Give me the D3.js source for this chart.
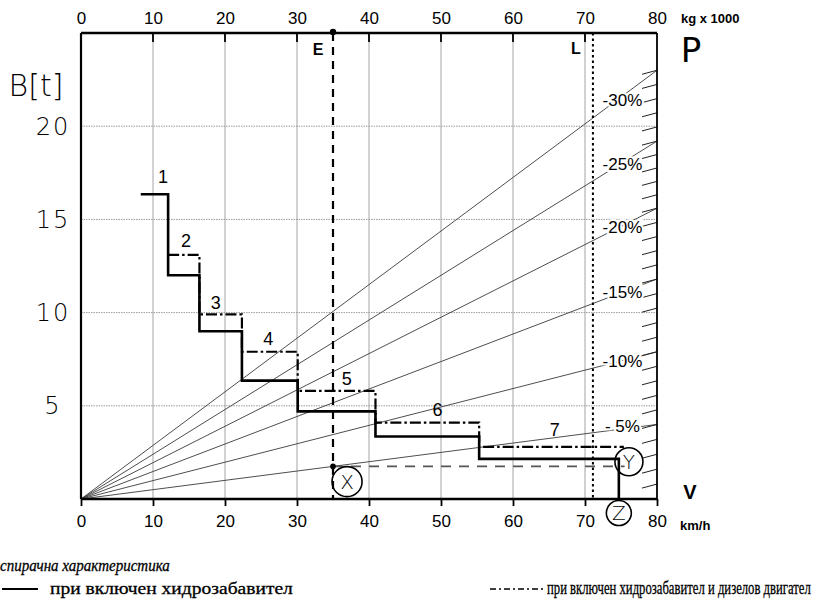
<!DOCTYPE html>
<html>
<head>
<meta charset="utf-8">
<script src="https://cdn.jsdelivr.net/npm/d3@7"></script>
<style>
  body { margin: 0; background: #fff; }
  svg { display: block; }
</style>
</head>
<body>
<div id="chart"></div>
<script>
// скорост (km/h) и спирачна сила B [t]
const speedTicks = [0, 10, 20, 30, 40, 50, 60, 70, 80];
const forceTicks = [5, 10, 15, 20];

// наклони: стойност на B при v = 80
const gradeLabels = ["- 5%", "-10%", "-15%", "-20%", "-25%", "-30%"];
const gradeB80 = [4.0, 7.9, 11.8, 15.6, 19.2, 23.0];
const gradeLabelB = [3.9, 7.4, 11.1, 14.6, 17.95, 21.4];
const hatchB80 = [0.8, 1.6, 2.4, 3.2, 4.0, 4.78, 5.56, 6.34, 7.12, 7.9,
                  8.68, 9.46, 10.24, 11.02, 11.8, 12.56, 13.32, 14.08, 14.84, 15.6,
                  16.32, 17.04, 17.76, 18.48, 19.2, 19.96, 20.72, 21.48, 22.24, 23.0];

// стъпала - хидрозабавител
const brakeSpeed = [8.3, 12.1, 16.45, 22.35, 30.1, 40.9, 55.3, 74.7];
const brakeForce = [16.35, 12.0, 9.0, 6.35, 4.7, 3.35, 2.15, 0];
// стъпала - хидрозабавител + дизелов двигател
const dieselSpeed = [12.1, 16.45, 22.35, 30.1, 40.9, 55.3, 75.4];
const dieselForce = [13.1, 9.9, 7.9, 5.8, 4.1, 2.8, 2.8];

const stepNames = ["1", "2", "3", "4", "5", "6", "7"];
const stepLabelSpeed = [11.4, 14.6, 18.7, 26.0, 36.9, 49.5, 65.8];
const stepLabelForce = [17.3, 13.85, 10.55, 8.6, 6.45, 4.8, 3.7];

const speedE = 35, speedL = 71.1;
const exampleForce = 1.75, exampleEnd = 75.5, speedZ = 74.7;
const circleX = [36.95, 0.93], circleY = [76.1, 2.0];

const W = 820, H = 616;
const x = d3.scaleLinear().domain([0, 80]).range([81, 657]);
const y = d3.scaleLinear().domain([0, 25]).range([499, 33]);

const svg = d3.select("#chart").append("svg")
    .attr("width", W)
    .attr("height", H);

const sans = "'Liberation Sans Narrow', 'Liberation Sans', Arial, sans-serif";
const arial = "'Liberation Sans', Arial, sans-serif";
const hand = "'DejaVu Sans', sans-serif";

// мрежа
svg.append("g")
    .selectAll("line")
    .data(speedTicks.slice(1, -1))
    .enter().append("line")
    .attr("x1", d => x(d)).attr("x2", d => x(d))
    .attr("y1", y(25)).attr("y2", y(0))
    .attr("stroke", "#9a9a9a")
    .attr("stroke-width", 0.9);

svg.append("g")
    .selectAll("line")
    .data(forceTicks)
    .enter().append("line")
    .attr("x1", x(0)).attr("x2", x(80))
    .attr("y1", d => y(d)).attr("y2", d => y(d))
    .attr("stroke", "#9a9a9a")
    .attr("stroke-width", 1)
    .attr("stroke-dasharray", "1.5,1");

// наклонени линии от началото
svg.append("g")
    .selectAll("line")
    .data(gradeB80)
    .enter().append("line")
    .attr("x1", x(0)).attr("y1", y(0))
    .attr("x2", x(80)).attr("y2", d => y(d))
    .attr("stroke", "#3a3a3a")
    .attr("stroke-width", 0.9);

// щрихи по дясната рамка (1%)
svg.append("g")
    .selectAll("line")
    .data(hatchB80)
    .enter().append("line")
    .attr("x1", x(80) - 15).attr("y1", d => y(d) + 4)
    .attr("x2", x(80)).attr("y2", d => y(d))
    .attr("stroke", "#222")
    .attr("stroke-width", 1);

// L - пунктир
svg.append("line")
    .attr("x1", x(speedL)).attr("x2", x(speedL))
    .attr("y1", y(25)).attr("y2", y(0))
    .attr("stroke", "#000")
    .attr("stroke-width", 2)
    .attr("stroke-dasharray", "2.5,3");

// етикети на наклоните
svg.append("g")
    .selectAll("text")
    .data(gradeLabels)
    .enter().append("text")
    .attr("x", x(75.2))
    .attr("y", (d, i) => y(gradeLabelB[i]))
    .attr("dy", "0.35em")
    .attr("text-anchor", "middle")
    .attr("font-family", sans)
    .attr("font-size", 17)
    .attr("stroke", "#fff")
    .attr("stroke-width", 4)
    .attr("paint-order", "stroke")
    .text(d => d);

// примерна линия (X -> Y)
svg.append("line")
    .attr("x1", x(speedE)).attr("x2", x(exampleEnd))
    .attr("y1", y(exampleForce)).attr("y2", y(exampleForce))
    .attr("stroke", "#555")
    .attr("stroke-width", 1.6)
    .attr("stroke-dasharray", "10,8");

// стъпала
const stepLine = d3.line()
    .x(d => x(d[0]))
    .y(d => y(d[1]))
    .curve(d3.curveStepAfter);

svg.append("path")
    .datum(dieselSpeed.map((s, i) => [s, dieselForce[i]]))
    .attr("d", stepLine)
    .attr("fill", "none")
    .attr("stroke", "#000")
    .attr("stroke-width", 2.2)
    .attr("stroke-dasharray", "11,3,2.5,3");

svg.append("path")
    .datum(brakeSpeed.map((s, i) => [s, brakeForce[i]]))
    .attr("d", stepLine)
    .attr("fill", "none")
    .attr("stroke", "#000")
    .attr("stroke-width", 2.6);

svg.append("g")
    .selectAll("text")
    .data(stepNames)
    .enter().append("text")
    .attr("x", (d, i) => x(stepLabelSpeed[i]))
    .attr("y", (d, i) => y(stepLabelForce[i]))
    .attr("dy", "0.35em")
    .attr("text-anchor", "middle")
    .attr("font-family", arial)
    .attr("font-size", 18)
    .text(d => d);

// E - прекъсната линия
svg.append("line")
    .attr("x1", x(speedE)).attr("x2", x(speedE))
    .attr("y1", y(25)).attr("y2", y(0))
    .attr("stroke", "#000")
    .attr("stroke-width", 2.2)
    .attr("stroke-dasharray", "8,6");

svg.append("circle")
    .attr("cx", x(speedE)).attr("cy", y(25) - 1)
    .attr("r", 3.2)
    .attr("fill", "#000");

svg.append("circle")
    .attr("cx", x(speedE)).attr("cy", y(exampleForce))
    .attr("r", 2.8)
    .attr("fill", "#000");

// рамка
svg.append("line")
    .attr("x1", x(0)).attr("x2", x(80))
    .attr("y1", y(25)).attr("y2", y(25))
    .attr("stroke", "#000").attr("stroke-width", 2.6);
svg.append("line")
    .attr("x1", x(0)).attr("x2", x(80))
    .attr("y1", y(0)).attr("y2", y(0))
    .attr("stroke", "#000").attr("stroke-width", 2.6);
svg.append("line")
    .attr("x1", x(0)).attr("x2", x(0))
    .attr("y1", y(25)).attr("y2", y(0))
    .attr("stroke", "#000").attr("stroke-width", 2.2);
svg.append("line")
    .attr("x1", x(80)).attr("x2", x(80))
    .attr("y1", y(25)).attr("y2", y(0))
    .attr("stroke", "#000").attr("stroke-width", 1.8);

// оси
const bottomAxis = svg.append("g")
    .attr("transform", `translate(0,${y(0)})`)
    .call(d3.axisBottom(x).tickValues(speedTicks).tickSize(7).tickPadding(9));

const topAxis = svg.append("g")
    .attr("transform", `translate(0,${y(25)})`)
    .call(d3.axisTop(x).tickValues(speedTicks).tickSize(0).tickPadding(9));

[bottomAxis, topAxis].forEach(g => {
    g.select(".domain").remove();
    g.selectAll("text")
        .attr("font-family", sans)
        .attr("font-size", 17)
        .attr("fill", "#000");
    g.selectAll("line").attr("stroke", "#000").attr("stroke-width", 1.8);
});

svg.append("g")
    .selectAll("line")
    .data(speedTicks.slice(1, -1))
    .enter().append("line")
    .attr("x1", d => x(d)).attr("x2", d => x(d))
    .attr("y1", y(25)).attr("y2", y(25) + 9)
    .attr("stroke", "#000")
    .attr("stroke-width", 1.8);

// лява скала (ръкописна)
svg.append("g")
    .selectAll("text")
    .data(forceTicks)
    .enter().append("text")
    .attr("x", 53)
    .attr("y", d => y(d))
    .attr("dy", "0.35em")
    .attr("text-anchor", "middle")
    .attr("font-family", hand)
    .attr("font-weight", 200)
    .attr("font-size", 24)
    .attr("letter-spacing", 2)
    .text(d => d);

svg.append("text")
    .attr("x", 36).attr("y", 96)
    .attr("text-anchor", "middle")
    .attr("font-family", hand)
    .attr("font-weight", 200)
    .attr("font-size", 30)
    .text("B[t]");

svg.append("text")
    .attr("x", 691).attr("y", 62)
    .attr("text-anchor", "middle")
    .attr("font-family", hand)
    .attr("font-size", 34)
    .text("P");

svg.append("text")
    .attr("x", 690).attr("y", 499)
    .attr("text-anchor", "middle")
    .attr("font-family", arial)
    .attr("font-weight", "bold")
    .attr("font-size", 20)
    .text("V");

svg.append("text")
    .attr("x", 681).attr("y", 23)
    .attr("font-family", arial)
    .attr("font-weight", "bold")
    .attr("font-size", 13)
    .text("kg x 1000");

svg.append("text")
    .attr("x", 680).attr("y", 530)
    .attr("font-family", arial)
    .attr("font-weight", "bold")
    .attr("font-size", 13)
    .text("km/h");

svg.append("text")
    .attr("x", x(speedE) - 15).attr("y", 55)
    .attr("text-anchor", "middle")
    .attr("font-family", arial)
    .attr("font-weight", "bold")
    .attr("font-size", 16)
    .text("E");

svg.append("text")
    .attr("x", x(speedL) - 17).attr("y", 54)
    .attr("text-anchor", "middle")
    .attr("font-family", arial)
    .attr("font-weight", "bold")
    .attr("font-size", 16)
    .text("L");

// кръгове X, Y, Z
const marks = [
    {t: "X", cx: x(circleX[0]), cy: y(circleX[1]), r: 15},
    {t: "Y", cx: x(circleY[0]), cy: y(circleY[1]), r: 14},
    {t: "Z", cx: x(speedZ), cy: y(0) + 14, r: 12.5}
];
const mg = svg.append("g")
    .selectAll("g")
    .data(marks)
    .enter().append("g");
mg.append("circle")
    .attr("cx", d => d.cx).attr("cy", d => d.cy).attr("r", d => d.r)
    .attr("fill", "none")
    .attr("stroke", "#000")
    .attr("stroke-width", 1.6);
mg.append("text")
    .attr("x", d => d.cx).attr("y", d => d.cy)
    .attr("dy", "0.36em")
    .attr("text-anchor", "middle")
    .attr("font-family", hand)
    .attr("font-weight", 200)
    .attr("font-size", 20)
    .text(d => d.t);

// легенда
const serif = "'Liberation Serif', 'Times New Roman', serif";

// текст, свит хоризонтално до зададена ширина
function fitText(x0, y0, width, size, str, italic) {
    const t = svg.append("text")
        .attr("font-family", serif)
        .attr("font-size", size)
        .attr("font-style", italic ? "italic" : "normal")
        .attr("stroke", "#000")
        .attr("stroke-width", 0.3)
        .text(str);
    const k = width / t.node().getComputedTextLength();
    t.attr("transform", `translate(${x0},${y0}) scale(${k},1)`);
    return t;
}

fitText(0, 571, 170, 17, "спирачна характеристика", true);

svg.append("line")
    .attr("x1", 2).attr("x2", 38)
    .attr("y1", 589).attr("y2", 589)
    .attr("stroke", "#000")
    .attr("stroke-width", 1.8);

fitText(50, 594, 243, 17, "при включен хидрозабавител", false);

svg.append("line")
    .attr("x1", 490).attr("x2", 545)
    .attr("y1", 589).attr("y2", 589)
    .attr("stroke", "#000")
    .attr("stroke-width", 1.6)
    .attr("stroke-dasharray", "6,3,2,3");

fitText(547, 594, 264, 18, "при включен хидрозабавител и дизелов двигател", false);
</script>
</body>
</html>
